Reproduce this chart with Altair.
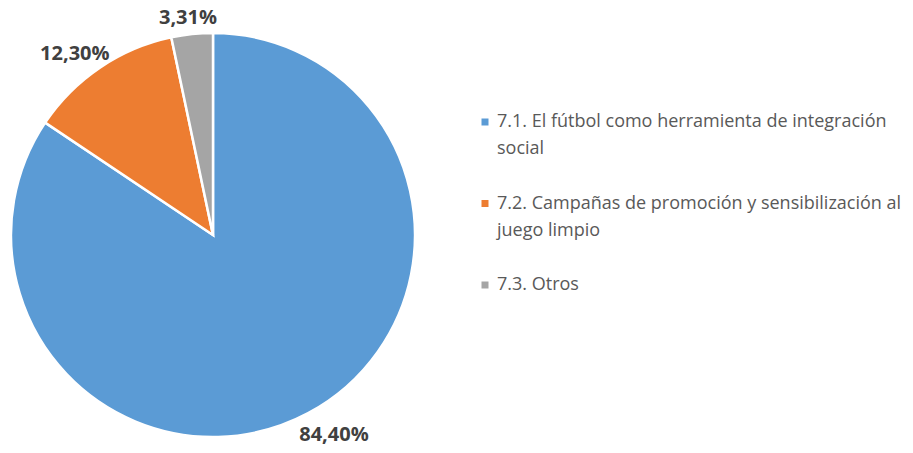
import altair as alt
import pandas as pd

categories = [
    "7.1. El fútbol como herramienta de integración social",
    "7.2. Campañas de promoción y sensibilización al juego limpio",
    "7.3. Otros",
]
legend_labels = [
    "7.1. El fútbol como herramienta de integración\nsocial",
    "7.2. Campañas de promoción y sensibilización al\njuego limpio",
    "7.3. Otros",
]
values = [84.40, 12.30, 3.31]
colors = ["#5B9BD5", "#ED7D31", "#A5A5A5"]

df = pd.DataFrame(
    {
        "categoria": categories,
        "leyenda": legend_labels,
        "valor": values,
        "orden": [0, 1, 2],
    }
)

CX, CY, R = 205, 227, 202
FONT = "Open Sans"
color_scale = alt.Scale(domain=categories, range=colors)

base = alt.Chart(df)

pie = base.mark_arc(outerRadius=R, stroke="white", strokeWidth=2.5).encode(
    theta=alt.Theta("valor:Q", stack=True),
    order=alt.Order("orden:Q"),
    x=alt.value(CX),
    y=alt.value(CY),
    color=alt.Color("categoria:N", scale=color_scale, legend=None),
)

# outside-end data labels: placed just beyond the rim along each slice's mid angle
labels = (
    base.transform_window(cum="sum(valor)", sort=[alt.SortField("orden")])
    .transform_joinaggregate(total="sum(valor)")
    .transform_calculate(
        etiqueta="replace(format(datum.valor, '.2f'), '.', ',') + '%'",
        a="2 * PI * (datum.cum - datum.valor / 2) / datum.total",
    )
    .transform_calculate(
        below="cos(datum.a) < 0 ? 1 : 0",
    )
    .transform_calculate(
        ox="(212 + 10 * datum.below + length(datum.etiqueta) * 5.8) * sin(datum.a)",
        oy="(218 + 9 * datum.below) * cos(datum.a)",
    )
    .transform_calculate(
        th="atan2(datum.ox, datum.oy)",
        rr="sqrt(datum.ox * datum.ox + datum.oy * datum.oy)",
    )
    .mark_text(font=FONT, fontSize=20, fontWeight="bold", color="#404040")
    .encode(
        theta=alt.Theta("th:Q", scale=None, stack=None),
        radius=alt.Radius("rr:Q", scale=None),
        x=alt.value(CX),
        y=alt.value(CY),
        text="etiqueta:N",
    )
)

leg_y = alt.Y("orden:Q", scale=alt.Scale(domain=[0, 2], range=[114, 277]), axis=None)

legend_sym = base.mark_square(size=49, opacity=1).encode(
    x=alt.value(477),
    y=leg_y,
    color=alt.Color("categoria:N", scale=color_scale, legend=None),
)

legend_txt = base.mark_text(
    align="left",
    baseline="middle",
    lineBreak="\n",
    lineHeight=27,
    font=FONT,
    fontSize=18,
    color="#595959",
).encode(
    x=alt.value(489),
    y=leg_y,
    text="leyenda:N",
)

chart = (
    alt.layer(pie, labels, legend_sym, legend_txt)
    .resolve_scale(theta="independent", radius="independent", y="independent")
    .properties(
        width=897,
        height=437,
        autosize=alt.AutoSizeParams(type="none"),
        padding=0,
    )
    .configure_view(stroke=None)
)

chart.save("out.html", embed_options={"renderer": "svg", "actions": False})
